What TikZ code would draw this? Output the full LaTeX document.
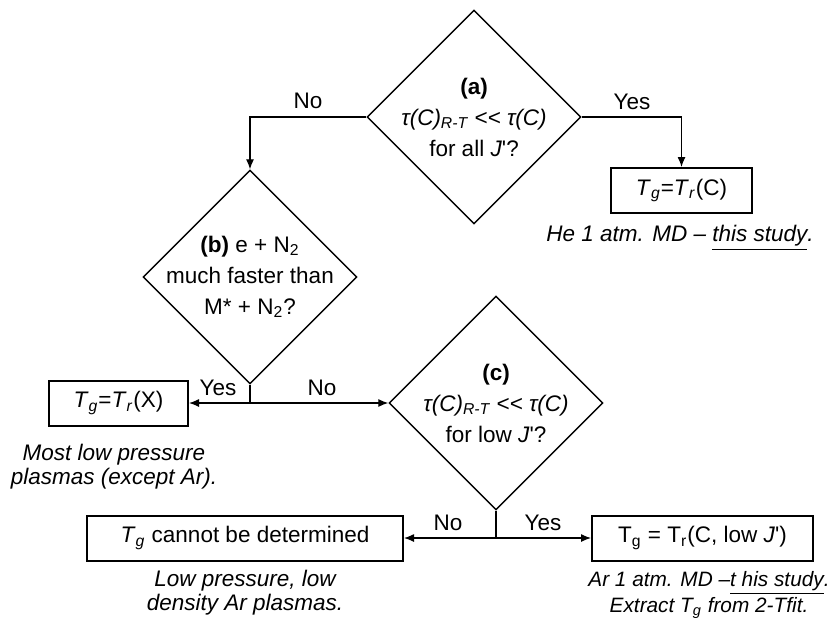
\documentclass[tikz,border=0pt]{standalone}
\usepackage{fontspec}
\setmainfont{Liberation Sans}[Ligatures=TeXOff]
\usetikzlibrary{shapes.geometric,arrows.meta}

\begin{document}
\begin{tikzpicture}[x=0.5pt,y=-0.5pt,
  font=\fontsize{11.25}{13.5}\selectfont,
  decision/.style={diamond,draw,line width=0.7pt,minimum width=107pt,minimum height=107pt,inner sep=0pt},
  qtext/.style={align=center,font=\fontsize{11.25}{15.5}\selectfont},
  result/.style={draw,line width=1pt,minimum height=22.5pt,inner sep=0pt},
  note/.style={align=center,font=\fontsize{11.25}{12}\selectfont\itshape},
  flow/.style={-{Latex[length=5pt,width=4pt]},line width=0.6pt}]
\useasboundingbox (0,0) rectangle (833,621);

% questions
\node[decision] (qa) at (474,117) {};
\node[qtext] (ta) at (qa) {\textbf{(a)}\\{\itshape τ(C)\textsubscript{R-T} << τ(C)}\\for all \textit{J}'?};
\node[decision] (qb) at (250,277) {};
\node[qtext] (tb) at (qb) {\textbf{(b)} e + N\textsubscript{2}\\much faster than\\M* + N\textsubscript{2}?};
\node[decision] (qc) at (496,403) {};
\node[qtext] (tc) at (qc) {\textbf{(c)}\\{\itshape τ(C)\textsubscript{R-T} << τ(C)}\\for low \textit{J}'?};

% results
\node[result,minimum width=70.5pt] (rc) at (681.5,190.5) {\textit{T}\textsubscript{\textit{g}}=\textit{T}\textsubscript{\textit{r}}(C)};
\node[result,minimum width=69.5pt] (rx) at (118.5,403) {\textit{T}\textsubscript{\textit{g}}=\textit{T}\textsubscript{\textit{r}}(X)};
\node[result,minimum width=158pt] (rn) at (245,538) {\textit{T}\textsubscript{\textit{g}} cannot be determined};
\node[result,minimum width=110.5pt] (ry) at (702.5,538) {T\textsubscript{g} = T\textsubscript{r}(C, low \textit{J}')};

% notes
\node[note] (nc) at (680,238) {He 1 atm. MD – \underline{this study}.};
\node[note] (nx) at (114,467) {Most low pressure\\plasmas (except Ar).};
\node[note] (nn) at (245,593) {Low pressure, low\\density Ar plasmas.};
\node[note,font=\fontsize{10.4}{12.8}\selectfont\itshape] (ny) at (709,595) {Ar 1 atm. MD –\underline{t his study}.\\Extract T\textsubscript{g} from 2-Tfit.};

% connectors
\coordinate (jb) at (250,403);
\coordinate (jc) at (496,538);
\draw[flow] (qa.west) -| (qb.north);
\draw[flow] (qa.east) -| (rc.north);
\draw[line width=0.6pt] (qb.south) -- (jb);
\draw[flow] (jb) -- (rx.east);
\draw[flow] (jb) -- (qc.west);
\draw[line width=0.6pt] (qc.south) -- (jc);
\draw[flow] (jc) -- (rn.east);
\draw[flow] (jc) -- (ry.west);

% answers
\node (la) at (308,101) {No};
\node (lb) at (632,102) {Yes};
\node (lc) at (218,388) {Yes};
\node (ld) at (322,388) {No};
\node (le) at (448,523) {No};
\node (lf) at (543,523) {Yes};
\end{tikzpicture}
\end{document}
